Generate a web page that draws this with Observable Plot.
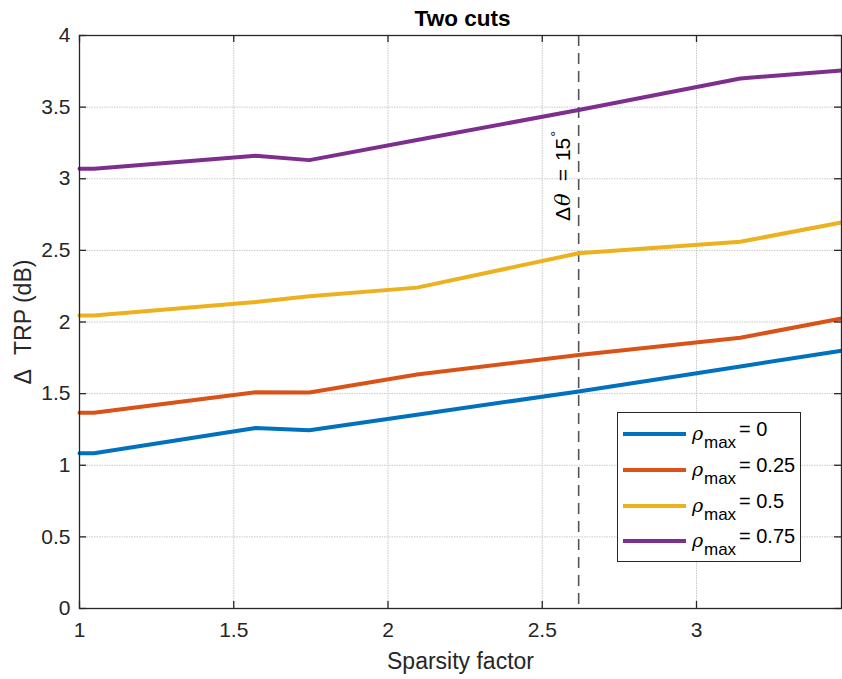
<!DOCTYPE html>
<html>
<head>
<meta charset="utf-8">
<script src="https://cdn.jsdelivr.net/npm/d3@7"></script>
<script src="https://cdn.jsdelivr.net/npm/@observablehq/plot@0.6"></script>
<style>
  body { margin: 0; background: #fff; }
  #wrap { position: relative; width: 842px; height: 679px; font-family: "Liberation Sans", Arial, sans-serif; }
  #legend { position: absolute; left: 617px; top: 412px; width: 184px; height: 150px; border: 1px solid #262626; background: #fff; box-sizing: border-box; }
  .row { position: absolute; left: 0; height: 24px; line-height: 24px; font-size: 20px; color: #000; white-space: nowrap; }
  .sw { position: absolute; left: 5px; top: 10px; width: 63px; height: 4px; }
  .rho { position: absolute; left: 74px; font-style: italic; font-family: "DejaVu Serif", serif; font-size: 19px; top: -1px; }
  .sub { position: absolute; left: 86px; top: 9px; font-size: 17px; }
  .val { position: absolute; left: 121px; top: -5px; }
</style>
</head>
<body>
<div id="wrap"></div>
<script>
const sparsity = [1, 1.047, 1.571, 1.745, 2.094, 2.618, 3.142, 3.47];
const rho0    = [1.084, 1.084, 1.26, 1.245, 1.353, 1.515, 1.69, 1.80];
const rho025  = [1.366, 1.366, 1.51, 1.508, 1.633, 1.77, 1.89, 2.025];
const rho05   = [2.045, 2.045, 2.14, 2.18, 2.24, 2.48, 2.56, 2.695];
const rho075  = [3.07, 3.07, 3.16, 3.13, 3.27, 3.48, 3.70, 3.756];
const seriesNames = ["0", "0.25", "0.5", "0.75"];
const seriesColors = ["#0072BD", "#D95319", "#EDB120", "#7E2F8E"];
const xTicks = [1, 1.5, 2, 2.5, 3];
const yTicks = [0, 0.5, 1, 1.5, 2, 2.5, 3, 3.5, 4];
const markerX = [2.618];
const markerLabelY = [3.02];

const allSeries = [rho0, rho025, rho05, rho075];
const data = [];
allSeries.forEach((vals, i) => vals.forEach((v, j) => data.push({x: sparsity[j], y: v, s: seriesNames[i]})));

const W = 842, H = 679, mL = 79, mR = 1, mT = 35, mB = 71;
const innerW = W - mL - mR, innerH = H - mT - mB;
const tick = 7;
const ink = "#262626";

const chart = Plot.plot({
  width: W, height: H,
  marginLeft: mL, marginRight: mR, marginTop: mT, marginBottom: mB,
  style: {fontFamily: "'Liberation Sans', Arial, sans-serif", fontSize: "20px", color: ink, background: "#fff"},
  x: {domain: [1, 3.47]},
  y: {domain: [0, 4]},
  color: {domain: seriesNames, range: seriesColors},
  marks: [
    Plot.gridX(xTicks, {stroke: "#c8c8c8", strokeOpacity: 1, strokeWidth: 1, strokeDasharray: "1.5,1"}),
    Plot.gridY(yTicks, {stroke: "#c8c8c8", strokeOpacity: 1, strokeWidth: 1, strokeDasharray: "1.5,1"}),
    Plot.ruleX(markerX, {stroke: "#555", strokeWidth: 1.6, strokeDasharray: "11,7"}),
    Plot.line(data, {x: "x", y: "y", z: "s", stroke: "s", strokeWidth: 4, strokeLinejoin: "round"}),
    Plot.text(markerX.map((x, i) => ({x, y: markerLabelY[i]})), {x: "x", y: "y", text: () => "Δθ = 15°", rotate: -90, dx: -15, fontSize: 21, fill: "#000", textAnchor: "middle", className: "annot"}),
    Plot.frame({stroke: ink, strokeWidth: 1.3}),
    Plot.tickX(xTicks, {stroke: ink, strokeWidth: 1.3, insetTop: innerH - tick}),
    Plot.tickX(xTicks, {stroke: ink, strokeWidth: 1.3, insetBottom: innerH - tick}),
    Plot.tickY(yTicks, {stroke: ink, strokeWidth: 1.3, insetRight: innerW - tick}),
    Plot.tickY(yTicks, {stroke: ink, strokeWidth: 1.3, insetLeft: innerW - tick}),
    Plot.axisX(xTicks, {tickSize: 0, tickPadding: 14, tickFormat: d => String(d), fontSize: 21, fill: ink, label: null}),
    Plot.axisY(yTicks, {tickSize: 0, tickPadding: 9, tickFormat: d => String(d), fontSize: 21, fill: ink, label: null}),
    Plot.text(["Sparsity factor"], {frameAnchor: "bottom", lineAnchor: "middle", textAnchor: "middle", dy: 53, fontSize: 23, fill: ink}),
    Plot.text(["Δ TRP (dB)"], {frameAnchor: "left", lineAnchor: "middle", textAnchor: "middle", dx: -56, rotate: -90, fontSize: 23, fill: ink, className: "ylab"}),
    Plot.text(["Two cuts"], {frameAnchor: "top", lineAnchor: "middle", textAnchor: "middle", dy: -17, dx: 2, fontSize: 22.5, fontWeight: "bold", fill: "#000"})
  ]
});

const wrap = document.getElementById("wrap");
wrap.appendChild(chart);
const ns = "http://www.w3.org/2000/svg";
function tspan(parent, txt, attrs = {}) {
  const s = document.createElementNS(ns, "tspan");
  s.textContent = txt;
  for (const k in attrs) s.setAttribute(k, attrs[k]);
  parent.appendChild(s);
}

// annotation: italic theta, superscript degree, TeX-like spacing
chart.querySelectorAll("g.annot text").forEach(t => {
  t.textContent = "";
  tspan(t, "Δ");
  tspan(t, "θ", {"font-style": "italic", "font-family": "DejaVu Serif, serif", dx: 1});
  tspan(t, "=", {dx: 12});
  tspan(t, "15", {dx: 8});
  tspan(t, "°", {dy: -9, "font-size": 15, dx: 1});
});

// y label: wider gap after Delta
chart.querySelectorAll("g.ylab text").forEach(t => {
  t.textContent = "";
  tspan(t, "Δ");
  tspan(t, "TRP (dB)", {dx: 14});
});

// legend
const legend = document.createElement("div");
legend.id = "legend";
const rowCenters = [21, 57, 92.5, 128];
seriesNames.forEach((name, i) => {
  const row = document.createElement("div");
  row.className = "row";
  row.style.top = (rowCenters[i] - 12) + "px";
  row.innerHTML = `<div class="sw" style="background:${seriesColors[i]}"></div><span class="rho">ρ</span><span class="sub">max</span><span class="val">= ${name}</span>`;
  legend.appendChild(row);
});
wrap.appendChild(legend);
</script>
</body>
</html>
